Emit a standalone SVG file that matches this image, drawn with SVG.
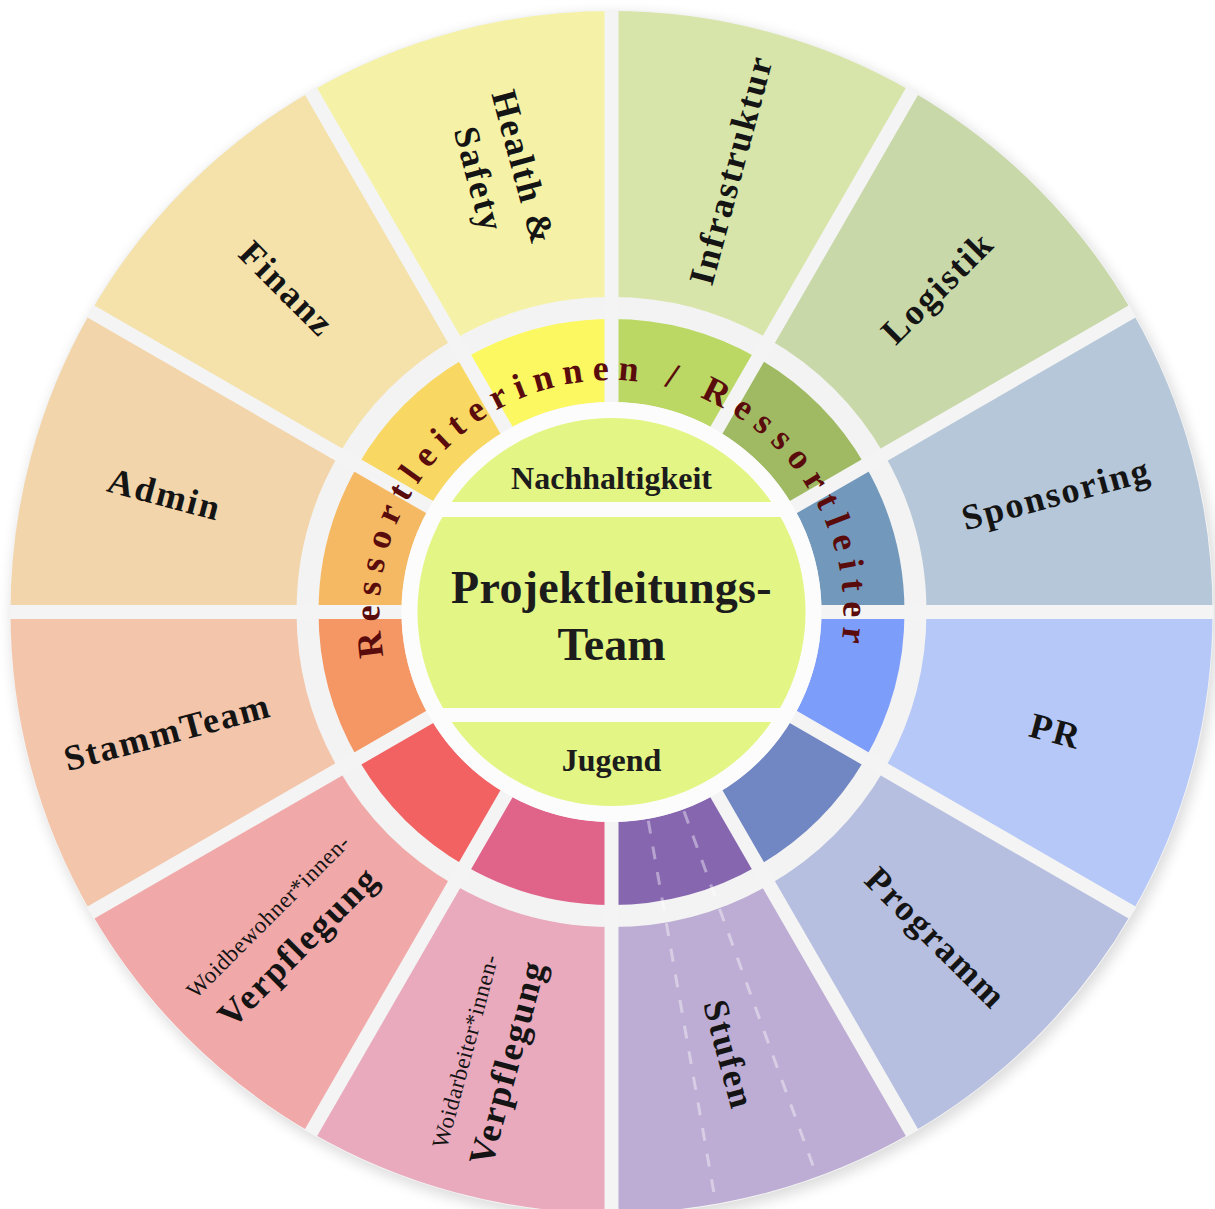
<svg xmlns="http://www.w3.org/2000/svg" width="1215" height="1209" viewBox="0 0 1215 1209">
<defs>
<filter id="sh" x="-10%" y="-10%" width="120%" height="120%"><feGaussianBlur stdDeviation="7"/></filter>
<path id="wo" d="M0,-601 A601,601 0 0 1 300.5,-520.48 L157.5,-272.8 A315,315 0 0 0 0,-315 Z"/>
<path id="wi" d="M0,-293 A293,293 0 0 1 146.5,-253.75 L105,-181.87 A210,210 0 0 0 0,-210 Z"/>
<path id="arc" d="M-227.74,44.27 A232,232 0 1 1 224.09,60.05"/>
<clipPath id="cc"><circle r="196"/></clipPath>
</defs>
<style>
.lb{font-family:"Liberation Serif","Times New Roman",serif;font-weight:bold;font-size:36px;letter-spacing:2px;fill:#141414;text-anchor:middle}
.sm{font-family:"Liberation Serif","Times New Roman",serif;font-size:23px;letter-spacing:0.5px;fill:#141414;text-anchor:middle}
.sep{stroke:#f4f4f4;stroke-width:14;fill:none}
.ct{font-family:"Liberation Serif","Times New Roman",serif;font-weight:bold;fill:#1c1c1c;text-anchor:middle}
.arct{font-family:"Liberation Serif","Times New Roman",serif;font-weight:bold;font-size:36px;letter-spacing:9px;fill:#5a0c0c}
.dash{stroke:#ffffff;stroke-opacity:0.4;stroke-width:3;stroke-dasharray:13 13;fill:none}
</style>
<g transform="translate(611.5,612)">
  <g id="background">
    <circle cx="3" cy="5" r="603" fill="#000" opacity="0.14" filter="url(#sh)"/>
    <circle r="602" fill="#f3f3f3"/>
  </g>
  <g id="outer-segments">
    <g id="seg-infrastruktur"><use href="#wo" fill="#d7e5aa"/><text class="lb" transform="rotate(-75)" x="458" y="13">Infrastruktur</text></g>
    <g id="seg-logistik"><use href="#wo" transform="rotate(30)" fill="#c9d8a9"/><text class="lb" transform="rotate(-45)" x="460" y="13">Logistik</text></g>
    <g id="seg-sponsoring"><use href="#wo" transform="rotate(60)" fill="#b5c7d8"/><text class="lb" transform="rotate(-15)" x="460" y="13">Sponsoring</text></g>
    <g id="seg-pr"><use href="#wo" transform="rotate(90)" fill="#b6c8f7"/><text class="lb" transform="rotate(15)" x="460" y="12">PR</text></g>
    <g id="seg-programm"><use href="#wo" transform="rotate(120)" fill="#b6bfdf"/><text class="lb" transform="rotate(45)" x="460" y="13">Programm</text></g>
    <g id="seg-stufen"><use href="#wo" transform="rotate(150)" fill="#bdadd4"/><text class="lb" transform="rotate(75)" x="458" y="13">Stufen</text></g>
    <g id="seg-verpflegung-woidarbeiter"><use href="#wo" transform="rotate(180)" fill="#e8aabc"/>
      <text class="sm" transform="rotate(-75)" x="-462" y="-20">Woidarbeiter*innen-</text>
      <text class="lb" transform="rotate(-75)" x="-462" y="28">Verpflegung</text></g>
    <g id="seg-verpflegung-woidbewohner"><use href="#wo" transform="rotate(210)" fill="#f0a9a8"/>
      <text class="sm" transform="rotate(-45)" x="-458" y="-20">Woidbewohner*innen-</text>
      <text class="lb" transform="rotate(-45)" x="-458" y="27">Verpflegung</text></g>
    <g id="seg-stammteam"><use href="#wo" transform="rotate(240)" fill="#f3c5aa"/><text class="lb" transform="rotate(-15)" x="-460" y="13">StammTeam</text></g>
    <g id="seg-admin"><use href="#wo" transform="rotate(270)" fill="#f2d5aa"/><text class="lb" transform="rotate(15)" x="-462" y="14">Admin</text></g>
    <g id="seg-finanz"><use href="#wo" transform="rotate(300)" fill="#f4e2aa"/><text class="lb" transform="rotate(45)" x="-458" y="13">Finanz</text></g>
    <g id="seg-health-safety"><use href="#wo" transform="rotate(330)" fill="#f5f2a8"/>
      <text class="lb" transform="rotate(75)" x="-452" y="-18">Health &amp;</text>
      <text class="lb" transform="rotate(75)" x="-452" y="28">Safety</text></g>
  </g>
  <g id="inner-segments">
    <g id="in-0"><use href="#wi" fill="#bbd864"/></g>
    <g id="in-1"><use href="#wi" transform="rotate(30)" fill="#9fba62"/></g>
    <g id="in-2"><use href="#wi" transform="rotate(60)" fill="#7299bc"/></g>
    <g id="in-3"><use href="#wi" transform="rotate(90)" fill="#7d9dfa"/></g>
    <g id="in-4"><use href="#wi" transform="rotate(120)" fill="#7187c3"/></g>
    <g id="in-5"><use href="#wi" transform="rotate(150)" fill="#8766b0"/></g>
    <g id="in-6"><use href="#wi" transform="rotate(180)" fill="#e06389"/></g>
    <g id="in-7"><use href="#wi" transform="rotate(210)" fill="#f26262"/></g>
    <g id="in-8"><use href="#wi" transform="rotate(240)" fill="#f49764"/></g>
    <g id="in-9"><use href="#wi" transform="rotate(270)" fill="#f6b963"/></g>
    <g id="in-10"><use href="#wi" transform="rotate(300)" fill="#f8d762"/></g>
    <g id="in-11"><use href="#wi" transform="rotate(330)" fill="#fbf862"/></g>
  </g>
  <g id="stufen-dashes">
    <line class="dash" x1="72.5" y1="199.2" x2="205.2" y2="563.8"/>
    <line class="dash" x1="36.8" y1="208.8" x2="104.2" y2="590.9"/>
  </g>
  <g id="connectors">
    <line class="sep" x1="0" y1="-602" x2="0" y2="602"/>
    <line class="sep" x1="301" y1="-521.4" x2="-301" y2="521.4"/>
    <line class="sep" x1="521.4" y1="-301" x2="-521.4" y2="301"/>
    <line class="sep" x1="602" y1="0" x2="-602" y2="0"/>
    <line class="sep" x1="521.4" y1="301" x2="-521.4" y2="-301"/>
    <line class="sep" x1="301" y1="521.4" x2="-301" y2="-521.4"/>
  </g>
  <g id="center">
    <circle r="210" fill="#fcfcfc"/>
    <circle r="194" fill="#e3f584"/>
    <g clip-path="url(#cc)">
      <rect x="-200" y="-110" width="400" height="15" fill="#fcfcfc"/>
      <rect x="-200" y="96" width="400" height="14" fill="#fcfcfc"/>
    </g>
    <text class="ct" x="0" y="-123" font-size="32">Nachhaltigkeit</text>
    <text class="ct" x="0" y="-9.5" font-size="46" letter-spacing="0.3">Projektleitungs-</text>
    <text class="ct" x="0" y="48" font-size="46">Team</text>
    <text class="ct" x="0" y="159" font-size="32">Jugend</text>
  </g>
  <g id="arc-label">
    <text class="arct"><textPath href="#arc">Ressortleiterinnen / Ressortleiter</textPath></text>
  </g>
</g>
</svg>
